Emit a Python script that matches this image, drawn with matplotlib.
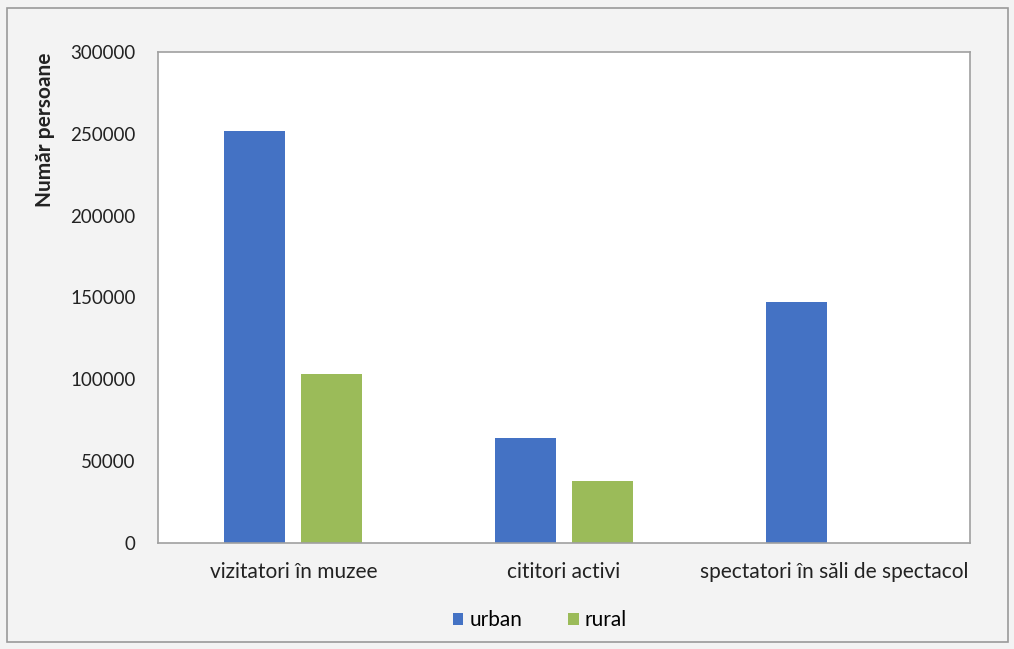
import numpy as np
import matplotlib.pyplot as plt
from matplotlib.patches import Rectangle

# Data
categories = ['vizitatori în muzee', 'cititori activi', 'spectatori în săli de spectacol']
urban = [252000, 64000, 147000]
rural = [103000, 38000, 0]
yticks = [0, 50000, 100000, 150000, 200000, 250000, 300000]

plt.rcParams['font.family'] = ['Lato', 'DejaVu Sans']

fig = plt.figure(figsize=(10.14, 6.49), dpi=100)
fig.patch.set_facecolor('#f3f3f3')
fig.patches.append(Rectangle((7 / 1014, 7 / 649), 1001 / 1014, 634 / 649, transform=fig.transFigure,
                             fill=False, edgecolor='#9a9a9a', linewidth=1.2))

ax = fig.add_axes([158 / 1014, 1 - 543 / 649, 812 / 1014, 491 / 649])
ax.set_facecolor('white')

x = np.arange(len(categories))
w = 0.225
gap = 0.06
ax.bar(x - (w + gap) / 2, urban, width=w, color='#4472c4', label='urban')
ax.bar(x + (w + gap) / 2, rural, width=w, color='#9bbb59', label='rural')

ax.set_xlim(-0.5, 2.5)
ax.set_ylim(0, 300000)
ax.set_yticks(yticks)
ax.set_yticklabels([str(t) for t in yticks], fontsize=13.5, color='#222222')
ax.set_xticks(x)
ax.set_xticklabels(categories, fontsize=15, color='#222222')
ax.tick_params(length=0, pad=14)
ax.tick_params(axis='y', pad=16)

for s in ax.spines.values():
    s.set_color('#a0a0a0')
    s.set_linewidth(1.2)

fig.text(45 / 1014, 1 - 130 / 649, 'Număr persoane', rotation=90, ha='center', va='center',
         fontsize=15, fontweight='bold', color='#222222')

fig.legend(loc='center', bbox_to_anchor=(540 / 1014, 1 - 620 / 649), ncol=2, frameon=False,
           fontsize=15, handlelength=0.5, handleheight=0.5, columnspacing=2.2, handletextpad=0.3)

fig.savefig('out.png', dpi=100, facecolor=fig.get_facecolor())
